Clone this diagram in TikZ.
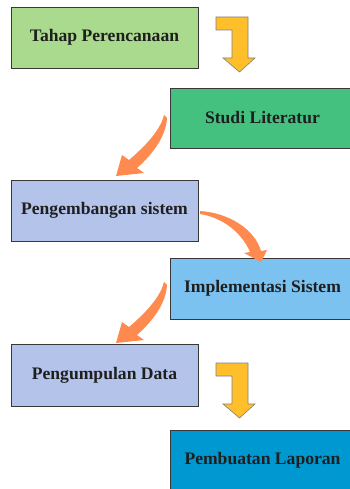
\documentclass[tikz,border=0pt]{standalone}
\usepackage{fontspec}
\setmainfont{Liberation Serif}
\usepackage{tikz}
\usetikzlibrary{arrows,shapes,positioning}

\definecolor{hijaumuda}{HTML}{A9DA8D}
\definecolor{hijau}{HTML}{45C17F}
\definecolor{ungu}{HTML}{B3C3EA}
\definecolor{birumuda}{HTML}{7CC2F0}
\definecolor{biru}{HTML}{0098D0}
\definecolor{oranye}{HTML}{FF8A50}
\definecolor{kuning}{HTML}{FFBF2A}

\tikzset{
  tahapbox/.style = {draw=black!78, line width=0.8pt, rectangle,
    minimum width=187pt, minimum height=61pt, inner sep=0pt,
    text=black!88, font=\fontsize{17.6}{20}\selectfont\bfseries},
  bentarrow/.pic = {
    \filldraw[fill=kuning, draw=black!50, line width=0.6pt]
      (0,0) -- (32,0) -- (32,41) -- (39,41) -- (23.5,55) -- (7,41)
      -- (16,41) -- (16,13) -- (0,13) -- cycle;
  },
  curvearrow/.pic = {
    \fill[oranye]
      (0,0) .. controls (-3,13) and (-15,28) .. (-35,45) -- (-42,40)
      -- (-48,61) -- (-20,58) -- (-27,53)
      .. controls (-9,37) and (2,20) .. (3,3) -- cycle;
  }
}

\begin{document}
\begin{tikzpicture}[x=1pt, y=-1pt]
\useasboundingbox (0,0) rectangle (350,489);
%\draw[help lines] (0,0) grid[step=50] (350,489);
\node[tahapbox, fill=hijaumuda] (tahap) at (104.5,37.5) {Tahap Perencanaan};
\node[tahapbox, fill=hijau, minimum width=185pt, minimum height=60pt] (studi) at (262.5,118) {Studi Literatur};
\node[tahapbox, fill=ungu] (pengembangan) at (104.5,210.5) {Pengembangan sistem};
\node[tahapbox, fill=birumuda, minimum width=185pt] (implementasi) at (262.5,288.5) {Implementasi Sistem};
\node[tahapbox, fill=ungu, minimum height=62pt] (pengumpulan) at (104.5,375) {Pengumpulan Data};
\node[tahapbox, fill=biru, minimum width=185pt] (laporan) at (262.5,460.5) {Pembuatan Laporan};

% panah
\pic at (216,17) {bentarrow};
\pic at (164,115) {curvearrow};
\fill[oranye]
  (200,211) .. controls (230,213) and (255,230) .. (261,251) -- (267,250)
  -- (261,262) -- (244,253) -- (250,252)
  .. controls (243,235) and (225,218) .. (200,214) -- cycle;
\pic at (164,282) {curvearrow};
\pic at (216,363) {bentarrow};
\end{tikzpicture}
\end{document}
